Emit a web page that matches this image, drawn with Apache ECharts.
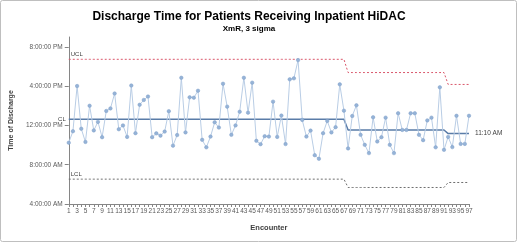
<!DOCTYPE html>
<html>
<head>
    <meta charset="utf-8">
    <title>Discharge Time XmR</title>
    <script src="https://cdn.jsdelivr.net/npm/echarts@6/dist/echarts.min.js"></script>
</head>
<body style="margin:0">
<div id="main" style="width: 520px;height:243px;"></div>
<script type="text/javascript">
    // encounter numbers 1..97
    var encounters = [];
    for (var i = 1; i <= 97; i++) { encounters.push(String(i)); }

    // discharge time, hours of the day
    var dischargeHours = [
        10.24, 11.41, 16.01, 11.66, 10.32, 14.00, 11.49, 12.36, 10.80, 13.47,
        13.73, 15.25, 11.61, 12.00, 10.83, 16.06, 11.21, 14.10, 14.59, 14.94,
        10.80, 11.19, 10.96, 11.37, 13.45, 9.94, 11.02, 16.85, 11.29, 14.86,
        14.82, 15.53, 10.53, 9.77, 10.86, 12.32, 11.78, 16.24, 13.91, 11.04,
        12.00, 13.39, 16.85, 13.30, 16.35, 10.43, 10.09, 10.90, 10.86, 14.42,
        10.83, 13.00, 10.10, 16.69, 16.79, 18.65, 12.56, 10.86, 11.47, 8.97,
        8.60, 11.21, 12.46, 11.29, 11.82, 16.18, 13.50, 9.66, 12.96, 14.05,
        11.04, 10.02, 9.18, 12.83, 10.36, 10.80, 12.79, 10.02, 9.18, 13.24,
        11.54, 11.54, 13.24, 13.24, 11.04, 10.50, 12.51, 12.79, 9.77, 15.88,
        9.51, 10.83, 9.79, 12.98, 10.12, 10.12, 12.98
    ];

    // control limit phases: last encounter of each phase and its limits
    var phaseEnds = [67, 91, 97];
    var clHours = [12.63, 11.53, 11.17];
    var uclHours = [18.73, 17.38, 16.17];
    var lclHours = [6.53, 5.68, 6.19];

    var yTicks = [4, 8, 12, 16, 20];

    function byPhase(vals) {
        var out = [];
        for (var n = 1; n <= encounters.length; n++) {
            var p = 0;
            while (n > phaseEnds[p]) p++;
            out.push(vals[p]);
        }
        return out;
    }

    function timeLabel(h) {
        var ap = h >= 12 ? 'PM' : 'AM';
        var hh = h % 12;
        if (hh === 0) hh = 12;
        return hh + ':00:00 ' + ap;
    }

    var clData = byPhase(clHours);
    var uclData = byPhase(uclHours);
    var lclData = byPhase(lclHours);

    // put a text label on the first point of a limit line
    function firstLabel(arr, text, pos, dist) {
        var d = arr.slice();
        d[0] = {
            value: arr[0],
            label: { show: true, formatter: text, position: pos, distance: dist || 5, color: '#404040', fontSize: 6 }
        };
        return d;
    }

    var myChart = echarts.init(document.getElementById('main'));

    var axisFont = { fontFamily: 'Liberation Sans', fontSize: 6.5, color: '#595959' };

    var option = {
        animation: false,
        textStyle: { fontFamily: 'Liberation Sans' },
        title: {
            text: 'Discharge Time for Patients Receiving Inpatient HiDAC',
            subtext: 'XmR, 3 sigma',
            left: 244,
            textAlign: 'center',
            top: 6,
            itemGap: 2,
            textStyle: { fontSize: 12, fontWeight: 'bold', color: '#000' },
            subtextStyle: { fontSize: 8, fontWeight: 'bold', color: '#000' }
        },
        graphic: [{
            type: 'rect',
            shape: { x: 0.5, y: 0.5, width: 516, height: 241, r: 2 },
            style: { fill: 'none', stroke: '#bfbfbf', lineWidth: 1 },
            silent: true
        }],
        grid: { left: 60, right: 51, top: 37, bottom: 39 },
        xAxis: {
            type: 'category',
            data: encounters,
            boundaryGap: false,
            name: 'Encounter',
            nameLocation: 'middle',
            nameGap: 20,
            nameTextStyle: { fontSize: 7.5, fontWeight: 'bold', color: '#404040' },
            axisLine: { lineStyle: { color: '#868686' } },
            axisTick: { interval: 0, length: 3, lineStyle: { color: '#868686' } },
            axisLabel: Object.assign({ interval: 1, margin: 4 }, axisFont),
            splitLine: { show: false }
        },
        yAxis: {
            type: 'value',
            min: 4,
            max: 21,
            interval: 4,
            name: 'Time of Discharge',
            nameLocation: 'middle',
            nameGap: 50,
            nameTextStyle: { fontSize: 7, fontWeight: 'bold', color: '#404040' },
            axisLine: { show: true, lineStyle: { color: '#868686' } },
            axisTick: { show: true, length: 4, lineStyle: { color: '#868686' } },
            axisLabel: Object.assign({
                margin: 6,
                showMaxLabel: false,
                formatter: function (v) { return yTicks.indexOf(v) >= 0 ? timeLabel(v) : ''; }
            }, axisFont),
            splitLine: { show: false }
        },
        series: [
            {
                name: 'UCL',
                type: 'line',
                data: firstLabel(uclData, 'UCL', [2, -8]),
                symbol: 'circle',
                symbolSize: 0,
                lineStyle: { color: '#d9576b', width: 1, type: [2, 2] },
                silent: true
            },
            {
                name: 'LCL',
                type: 'line',
                data: firstLabel(lclData, 'LCL', [2, -8]),
                symbol: 'circle',
                symbolSize: 0,
                lineStyle: { color: '#6f6f6f', width: 1, type: [2, 2] },
                silent: true
            },
            {
                name: 'CL',
                type: 'line',
                data: firstLabel(clData, 'CL', 'left', 3),
                symbol: 'circle',
                symbolSize: 0,
                lineStyle: { color: '#5a7ca8', width: 1.5 },
                endLabel: {
                    show: true,
                    formatter: '11:10 AM',
                    distance: 6,
                    color: '#404040',
                    fontSize: 6.5
                },
                silent: true
            },
            {
                name: 'Discharge',
                type: 'line',
                data: dischargeHours,
                symbol: 'circle',
                symbolSize: 3.5,
                showAllSymbol: true,
                itemStyle: { color: '#95b3d7', borderColor: '#7f9fc8', borderWidth: 0.5 },
                lineStyle: { color: '#b9cde5', width: 1 },
                z: 5
            }
        ]
    };

    myChart.setOption(option);
</script>
</body>
</html>
